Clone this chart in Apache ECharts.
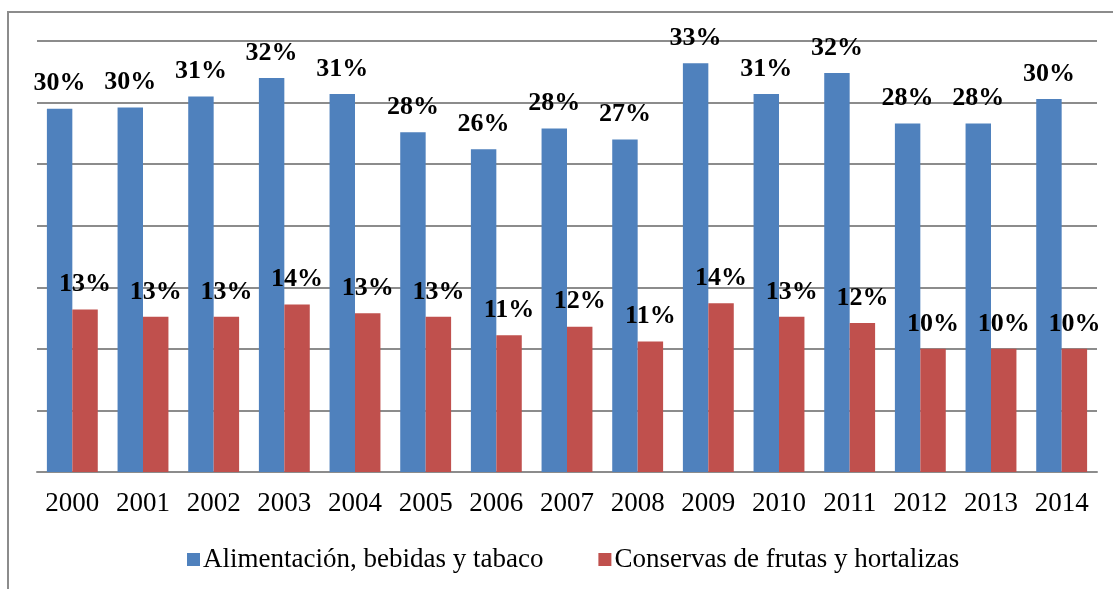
<!DOCTYPE html>
<html>
<head>
<meta charset="utf-8">
<script src="https://cdn.jsdelivr.net/npm/echarts@6/dist/echarts.min.js"></script>
<style>
  html, body { margin: 0; padding: 0; background: #fff; overflow: hidden; }
  #frame {
    position: absolute; left: 7px; top: 11px; width: 1120px; height: 600px;
    border-left: 2px solid #8c8c8c; border-top: 2px solid #8c8c8c;
  }
  #main { position: absolute; left: 0; top: 0; width: 1113px; height: 589px; }
</style>
</head>
<body>
<div id="frame"></div>
<div id="main"></div>
<script>
// años
const years = ['2000', '2001', '2002', '2003', '2004', '2005', '2006', '2007',
  '2008', '2009', '2010', '2011', '2012', '2013', '2014'];

const alimentacion = [29.5, 29.6, 30.5, 32.0, 30.7, 27.6, 26.2, 27.9,
  27.0, 33.2, 30.7, 32.4, 28.3, 28.3, 30.3];
const conservas = [13.2, 12.6, 12.6, 13.6, 12.9, 12.6, 11.1, 11.8,
  10.6, 13.7, 12.6, 12.1, 10.0, 10.0, 10.0];

const seriesNames = ['Alimentación, bebidas y tabaco', 'Conservas de frutas y hortalizas'];

const serif = '"Liberation Serif", "Times New Roman", serif';

const labelStyle = {
  show: true,
  position: 'top',
  distance: 12,
  color: '#000',
  fontFamily: serif,
  fontWeight: 'bold',
  fontSize: 26,
  formatter: p => Math.round(p.value) + '%'
};

let option = {
  animation: false,
  legend: {
    left: 187,
    top: 546,
    padding: 0,
    icon: 'rect',
    itemWidth: 13,
    itemHeight: 13,
    itemGap: 55,
    textStyle: {
      color: '#000',
      fontFamily: serif,
      fontSize: 27,
      padding: [0, 0, 0, -2]
    }
  },
  grid: {
    left: 37,
    right: 16,
    top: 41,
    bottom: 117
  },
  xAxis: {
    type: 'category',
    data: years,
    axisLine: { lineStyle: { color: '#8c8c8c', width: 2 } },
    axisTick: { show: false },
    axisLabel: {
      color: '#000',
      fontFamily: serif,
      fontSize: 27,
      margin: 18
    }
  },
  yAxis: {
    type: 'value',
    min: 0,
    max: 35,
    interval: 5,
    axisLabel: { show: false },
    axisLine: { show: false },
    axisTick: { show: false },
    splitLine: { lineStyle: { color: '#8c8c8c', width: 2 } }
  },
  series: [
    {
      name: seriesNames[0],
      type: 'bar',
      data: alimentacion,
      barGap: '0%',
      barCategoryGap: '28%',
      itemStyle: { color: '#4f81bd' },
      label: labelStyle
    },
    {
      name: seriesNames[1],
      type: 'bar',
      data: conservas,
      itemStyle: { color: '#c0504d' },
      label: labelStyle
    }
  ]
};

let myChart = echarts.init(document.getElementById('main'));
myChart.setOption(option);
</script>
</body>
</html>
